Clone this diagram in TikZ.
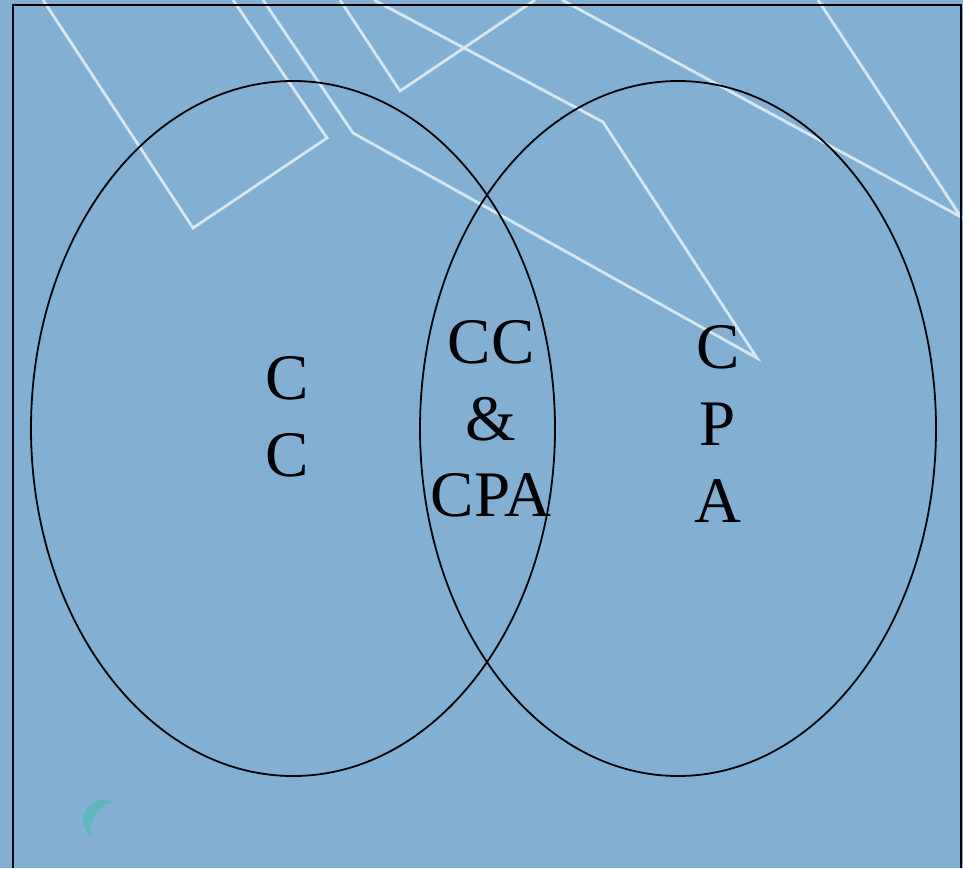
\documentclass[tikz,border=0pt]{standalone}
\usepackage{fontspec}
\setmainfont{Liberation Serif}
\usetikzlibrary{shapes.geometric}
\definecolor{bgblue}{HTML}{83B0D2}
\definecolor{paleline}{HTML}{D6E7F1}
\definecolor{crescent}{HTML}{5FB6BE}
\tikzset{
  setring/.style={ellipse, draw=black, line width=1.8pt, inner sep=0pt},
  letter/.style={anchor=base, inner sep=0pt, font=\fontsize{65}{77}\selectfont},
  deco/.style={draw=paleline, line width=2.8pt, line join=miter},
}
\begin{document}
\begin{tikzpicture}[x=1pt, y=-1pt]
  \useasboundingbox (0,0) rectangle (963,868);
  \fill[bgblue] (0,0) rectangle (963,868);
  % decorative pale lines
  \draw[deco] (43,0) -- (193,228) -- (327,138) -- (233,0);
  \draw[deco] (263,0) -- (353,133) -- (757,358) -- (603,122) -- (374,0);
  \draw[deco] (340,0) -- (400,91) -- (535,0);
  \draw[deco] (562,0) -- (961,217) -- (818,0);
  % frame
  \coordinate (fbl) at (13,868);
  \coordinate (ftl) at (13,5);
  \coordinate (ftr) at (961,5);
  \coordinate (fbr) at (961,868);
  \draw[line width=2.2pt] (fbl) -- (ftl) -- (ftr) -- (fbr);
  % sets
  \node[setring, minimum width=524pt, minimum height=695pt] (setCC) at (293,428.5) {};
  \node[setring, minimum width=516pt, minimum height=695pt] (setCPA) at (678,428.5) {};
  % labels
  \node[letter] (l1) at (287,399) {C};
  \node[letter] (l2) at (287,476) {C};
  \node[letter] (m1) at (491,363) {CC};
  \node[letter] (m2) at (491,440) {\&};
  \node[letter] (m3) at (491,516) {CPA};
  \node[letter] (r1) at (718,368) {C};
  \node[letter] (r2) at (718,445) {P};
  \node[letter] (r3) at (718,522) {A};
  % crescent
  \begin{scope}
    \clip (103.4,820.1) circle (20.4);
    \fill[crescent, even odd rule] (103.4,820.1) circle (20.4) (120.2,830.1) circle (29);
  \end{scope}
\end{tikzpicture}
\end{document}
